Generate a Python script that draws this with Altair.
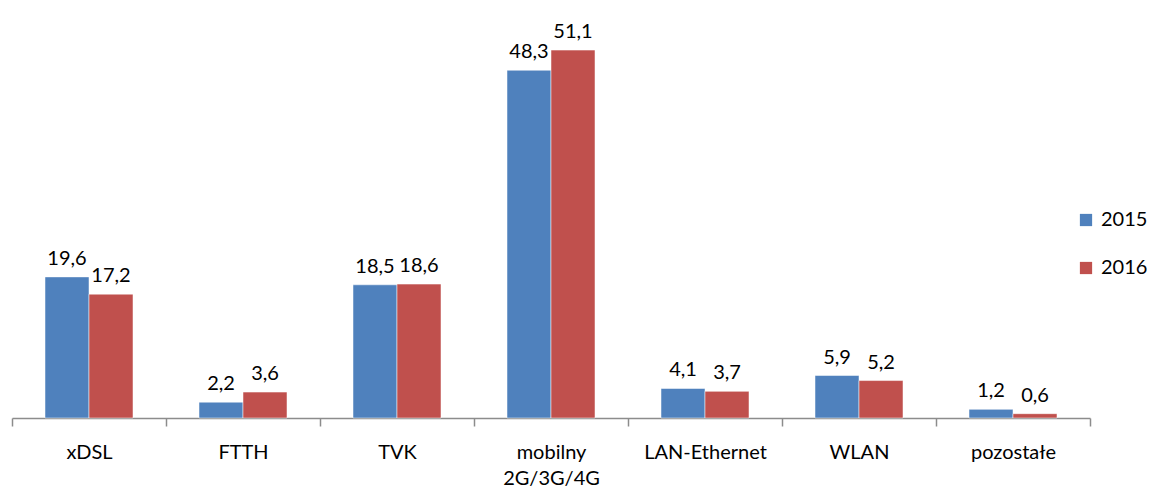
import altair as alt
import pandas as pd

categories = ["xDSL", "FTTH", "TVK", "mobilny|2G/3G/4G", "LAN-Ethernet", "WLAN", "pozostałe"]
values_2015 = [19.6, 2.2, 18.5, 48.3, 4.1, 5.9, 1.2]
values_2016 = [17.2, 3.6, 18.6, 51.1, 3.7, 5.2, 0.6]
series = ["2015", "2016"]
colors = ["#4F81BD", "#C0504D"]

rows = []
for c, a, b in zip(categories, values_2015, values_2016):
    rows.append({"cat": c, "year": "2015", "value": a})
    rows.append({"cat": c, "year": "2016", "value": b})
df = pd.DataFrame(rows)

FONT = "Lato"
FS = 20

x = alt.X("cat:N", sort=categories, title=None,
          scale=alt.Scale(paddingInner=0, paddingOuter=0),
          axis=alt.Axis(labelAngle=0, tickBand="extent", domainColor="#8c8c8c",
                        tickColor="#8c8c8c", tickSize=8, domainWidth=1.5, tickWidth=1.5,
                        labelFontSize=FS, labelFont=FONT, labelColor="#000000",
                        labelPadding=16, labelLineHeight=26,
                        labelExpr="split(datum.label, '|')"))
xo = alt.XOffset("year:N", scale=alt.Scale(paddingOuter=0.75, paddingInner=0))
y = alt.Y("value:Q", scale=alt.Scale(domain=[0, 55]), axis=None)

base = alt.Chart(df).encode(x=x, xOffset=xo, y=y)

bars = base.mark_bar(stroke="white", strokeWidth=0.5).encode(
    color=alt.Color("year:N", scale=alt.Scale(domain=series, range=colors),
                    legend=alt.Legend(title=None, orient="none", legendX=1064, legendY=188,
                                      symbolType="square", symbolSize=150, symbolStrokeWidth=0,
                                      labelFontSize=FS, labelFont=FONT, labelColor="#000000",
                                      rowPadding=28, symbolOffset=0, labelOffset=5))
)

labels = base.transform_calculate(
    lab="replace(format(datum.value, '.1f'), '.', ',')"
).mark_text(baseline="bottom", dy=-8, fontSize=FS, font=FONT, color="#000000").encode(
    text="lab:N"
)

chart = alt.layer(bars, labels).properties(
    width=1078, height=396,
    autosize=alt.AutoSizeParams(type="none"),
    padding={"left": 4, "top": 14, "right": 57, "bottom": 70},
).configure_view(stroke=None)

chart.save("out.html", embed_options={"renderer": "svg", "actions": False})
